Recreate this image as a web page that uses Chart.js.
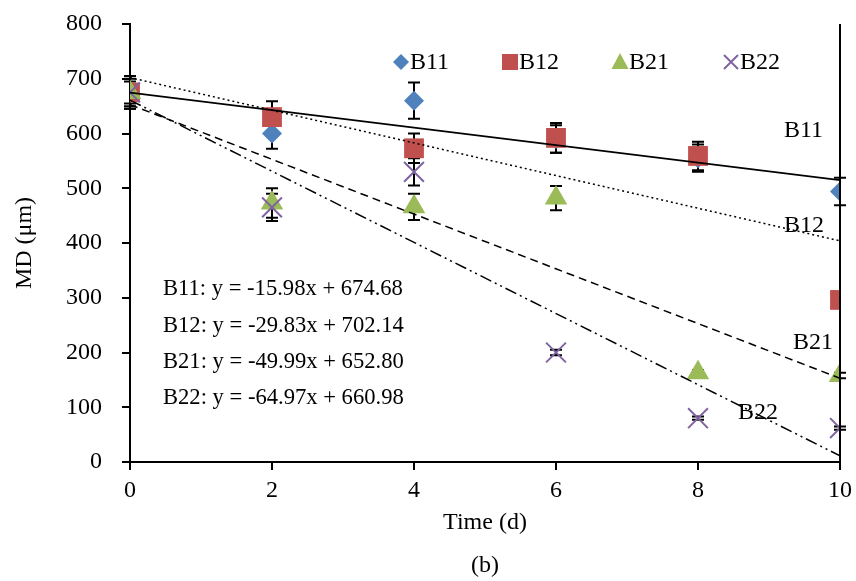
<!DOCTYPE html>
<html>
<head>
<meta charset="utf-8">
<script src="https://cdn.jsdelivr.net/npm/chart.js@4.4.0/dist/chart.umd.min.js"></script>
<style>
html,body{margin:0;padding:0;background:#fff;}
#wrap{width:856px;height:581px;position:relative;}
</style>
</head>
<body>
<div id="wrap"><canvas id="c" width="856" height="581"></canvas></div>
<script>
const days = [0, 2, 4, 6, 8, 10];
const b11 = [675, 600, 660, 590, 555, 494];
const b12 = [675, 630, 573, 592, 559, 296];
const b21 = [675, 473, 466, 482, 163, 158];
const b22 = [675, 465, 530, 200, 80, 62];
const b11Err = [30, 28, 33, 25, 25, 25];
const b12Err = [30, 29, 27, 27, 26, 0];
const b21Err = [20, 27, 24, 22, 5, 5];
const b22Err = [25, 25, 25, 5, 3, 3];
const fits = {
  B11: {slope: -15.98, intercept: 674.68},
  B12: {slope: -29.83, intercept: 702.14},
  B21: {slope: -49.99, intercept: 652.80},
  B22: {slope: -64.97, intercept: 660.98}
};
const eqLabels = [
  'B11: y = -15.98x + 674.68',
  'B12: y = -29.83x + 702.14',
  'B21: y = -49.99x + 652.80',
  'B22: y = -64.97x + 660.98'
];
const xTicks = [0, 2, 4, 6, 8, 10];
const yTicks = [0, 100, 200, 300, 400, 500, 600, 700, 800];

const FONT = "'Liberation Serif', 'Times New Roman', serif";
const colors = {B11: '#4F81BD', B12: '#C0504D', B21: '#9BBB59', B22: '#8064A2'};

function pts(vals, errs) { return days.map((d, i) => ({x: d, y: vals[i], err: errs[i]})); }
function fitLine(f) { return [{x: 0, y: f.intercept}, {x: 10, y: f.intercept + 10 * f.slope}]; }

const datasets = [
  {type: 'scatter', label: 'B11', data: pts(b11, b11Err), pointStyle: 'rectRot', pointRadius: 10,
   backgroundColor: colors.B11, borderColor: colors.B11, borderWidth: 0, order: 4},
  {type: 'scatter', label: 'B12', data: pts(b12, b12Err), pointStyle: 'rect', pointRadius: 14,
   backgroundColor: colors.B12, borderColor: colors.B12, borderWidth: 0, order: 3},
  {type: 'scatter', label: 'B21', data: pts(b21, b21Err), pointStyle: 'triangle', pointRadius: 13,
   backgroundColor: colors.B21, borderColor: colors.B21, borderWidth: 0, order: 2},
  {type: 'scatter', label: 'B22', data: pts(b22, b22Err), pointStyle: 'crossRot', pointRadius: 14,
   backgroundColor: colors.B22, borderColor: colors.B22, borderWidth: 2, order: 1},
  {type: 'line', label: 'fitB11', data: fitLine(fits.B11), borderColor: '#000', borderWidth: 1.8, pointRadius: 0, fill: false, order: 0},
  {type: 'line', label: 'fitB12', data: fitLine(fits.B12), borderColor: '#000', borderWidth: 1.5, borderDash: [2, 3], pointRadius: 0, fill: false, order: 0},
  {type: 'line', label: 'fitB21', data: fitLine(fits.B21), borderColor: '#000', borderWidth: 1.5, borderDash: [8, 5], pointRadius: 0, fill: false, order: 0},
  {type: 'line', label: 'fitB22', data: fitLine(fits.B22), borderColor: '#000', borderWidth: 1.5, borderDash: [12, 4, 2, 4, 2, 4], pointRadius: 0, fill: false, order: 0}
];

const errorBars = {
  id: 'errorBars',
  beforeDatasetsDraw(chart) {
    const ctx = chart.ctx, xs = chart.scales.x, ys = chart.scales.y;
    ctx.save();
    ctx.strokeStyle = '#000';
    ctx.lineWidth = 2;
    chart.data.datasets.forEach(ds => {
      if (ds.type !== 'scatter') return;
      ds.data.forEach(p => {
        if (!p.err) return;
        const x = xs.getPixelForValue(p.x);
        const yt = ys.getPixelForValue(p.y + p.err);
        const yb = ys.getPixelForValue(p.y - p.err);
        ctx.beginPath();
        ctx.moveTo(x, yt); ctx.lineTo(x, yb);
        ctx.moveTo(x - 6, yt); ctx.lineTo(x + 6, yt);
        ctx.moveTo(x - 6, yb); ctx.lineTo(x + 6, yb);
        ctx.stroke();
      });
    });
    ctx.restore();
  }
};

function drawMarker(ctx, style, x, y, color) {
  ctx.save();
  ctx.fillStyle = color; ctx.strokeStyle = color; ctx.lineWidth = 2;
  ctx.beginPath();
  if (style === 'rectRot') {
    const r = 8;
    ctx.moveTo(x, y - r); ctx.lineTo(x + r, y); ctx.lineTo(x, y + r); ctx.lineTo(x - r, y); ctx.closePath(); ctx.fill();
  } else if (style === 'rect') {
    ctx.rect(x - 8, y - 8, 16, 16); ctx.fill();
  } else if (style === 'triangle') {
    ctx.moveTo(x, y - 9); ctx.lineTo(x + 8.5, y + 7); ctx.lineTo(x - 8.5, y + 7); ctx.closePath(); ctx.fill();
  } else {
    const r = 7;
    ctx.moveTo(x - r, y - r); ctx.lineTo(x + r, y + r); ctx.moveTo(x + r, y - r); ctx.lineTo(x - r, y + r); ctx.stroke();
  }
  ctx.restore();
}

const annotations = {
  id: 'annotations',
  afterDraw(chart) {
    const ctx = chart.ctx;
    const ca = chart.chartArea;
    ctx.save();
    ctx.fillStyle = '#000';
    ctx.textBaseline = 'middle';
    // legend
    ctx.font = '24px ' + FONT;
    const legendItems = [
      {t: 'B11', s: 'rectRot', c: colors.B11, x: 401},
      {t: 'B12', s: 'rect', c: colors.B12, x: 510},
      {t: 'B21', s: 'triangle', c: colors.B21, x: 620},
      {t: 'B22', s: 'crossRot', c: colors.B22, x: 731}
    ];
    legendItems.forEach(it => {
      drawMarker(ctx, it.s, it.x, 62, it.c);
      ctx.fillStyle = '#000';
      ctx.textAlign = 'left';
      ctx.fillText(it.t, it.x + 9, 63);
    });
    // equations
    ctx.font = '22.6px ' + FONT;
    ctx.textAlign = 'left';
    const eqY = [289, 326, 362, 398];
    eqLabels.forEach((t, i) => ctx.fillText(t, 163, eqY[i]));
    // trendline labels
    ctx.font = '24px ' + FONT;
    ctx.fillText('B11', 784, 131);
    ctx.fillText('B12', 784, 226);
    ctx.fillText('B21', 793, 343);
    ctx.fillText('B22', 738, 413);
    // caption
    ctx.textAlign = 'center';
    ctx.fillText('(b)', (ca.left + ca.right) / 2, 566);
    // right border
    ctx.strokeStyle = '#000'; ctx.lineWidth = 2;
    ctx.beginPath(); ctx.moveTo(ca.right, ca.top); ctx.lineTo(ca.right, ca.bottom); ctx.stroke();
    ctx.restore();
  }
};

new Chart(document.getElementById('c'), {
  data: {datasets},
  options: {
    responsive: false,
    animation: false,
    layout: {padding: {left: 10, right: 13, top: 24, bottom: 44}},
    plugins: {legend: {display: false}, tooltip: {enabled: false}},
    scales: {
      x: {
        type: 'linear', min: 0, max: 10,
        afterBuildTicks(s) { s.ticks = xTicks.map(v => ({value: v})); },
        afterFit(s) { s.height = 75; s.paddingLeft = 0; s.paddingRight = 0; },
        ticks: {color: '#000', font: {family: FONT, size: 24}, padding: 6},
        grid: {drawOnChartArea: false, drawTicks: true, tickLength: 8, color: '#000', lineWidth: 2},
        border: {display: true, color: '#000', width: 2},
        title: {display: true, text: 'Time (d)', color: '#000', font: {family: FONT, size: 24}, padding: 0}
      },
      y: {
        type: 'linear', min: 0, max: 800,
        afterBuildTicks(s) { s.ticks = yTicks.map(v => ({value: v})); },
        afterFit(s) { s.width = 120; s.paddingTop = 0; s.paddingBottom = 0; },
        ticks: {color: '#000', font: {family: FONT, size: 24}, padding: 20},
        grid: {drawOnChartArea: false, drawTicks: true, tickLength: 8, color: '#000', lineWidth: 2},
        border: {display: true, color: '#000', width: 2},
        title: {display: true, text: 'MD (μm)', color: '#000', font: {family: FONT, size: 24}, padding: 0}
      }
    }
  },
  plugins: [errorBars, annotations]
});
</script>
</body>
</html>
